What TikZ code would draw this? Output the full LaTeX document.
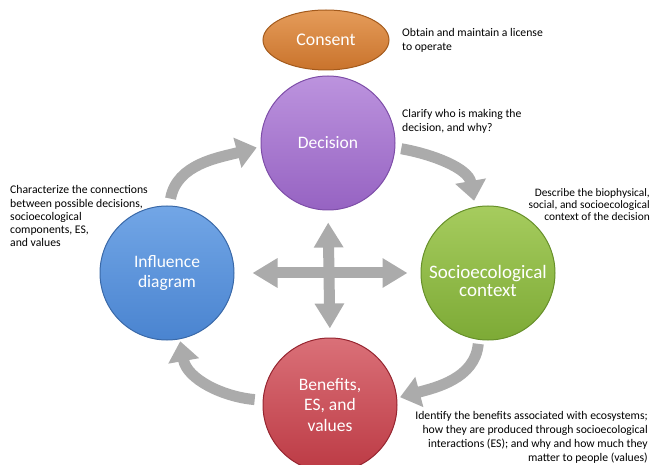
\documentclass[tikz,border=0pt]{standalone}
\usepackage{fontspec}
\setmainfont{Carlito}
\usetikzlibrary{arrows.meta,shapes.geometric}
\definecolor{arrowgray}{HTML}{ABABAB}
\definecolor{consentA}{HTML}{E59C5A}
\definecolor{consentB}{HTML}{C9732C}
\definecolor{consentL}{HTML}{A35A1C}
\definecolor{decA}{HTML}{BC93DE}
\definecolor{decB}{HTML}{9663C2}
\definecolor{decL}{HTML}{7E4EA8}
\definecolor{inflA}{HTML}{72A6E6}
\definecolor{inflB}{HTML}{4A84D0}
\definecolor{inflL}{HTML}{3A69A8}
\definecolor{socA}{HTML}{A6CC5E}
\definecolor{socB}{HTML}{7DAA36}
\definecolor{socL}{HTML}{67902A}
\definecolor{benA}{HTML}{DA7078}
\definecolor{benB}{HTML}{BC3A44}
\definecolor{benL}{HTML}{962530}
\begin{document}
\begin{tikzpicture}[x=1pt,y=1pt,
  hub/.style={circle, minimum size=134pt, inner sep=0pt, line width=1pt, text=white, align=center, font=\fontsize{17.5}{20.5}\selectfont},
  note/.style={inner sep=0pt, font=\fontsize{11.7}{13.5}\selectfont},
  loop/.style={line width=11pt, draw=arrowgray, -{Triangle[width=30pt,length=20pt]}},
  cross/.style={line width=11pt, draw=arrowgray, {Triangle[width=28pt,length=25pt]}-{Triangle[width=28pt,length=25pt]}}]
\useasboundingbox (0,0) rectangle (651,-465);

% the five steps
\node [ellipse, minimum width=126pt, minimum height=60pt, inner sep=0pt, line width=1pt, draw=consentL, top color=consentA, bottom color=consentB, text=white, font=\fontsize{17.8}{20}\selectfont] (consent) at (326,-40) {Consent};
\node [hub, draw=decL, top color=decA, bottom color=decB] (dec) at (328,-143) {Decision};
\node [hub, draw=inflL, top color=inflA, bottom color=inflB] (infl) at (167,-273) {Influence\\diagram};
\node [hub, draw=socL, top color=socA, bottom color=socB,
  label={[text=white, align=center, yshift=-8pt, font=\fontsize{19}{18}\selectfont]center:Socioecological\\context}] (soc) at (488,-273) {};
\node [hub, draw=benL, top color=benA, bottom color=benB] (ben) at (330,-405) {Benefits,\\ES, and\\values};

% cycle
\draw [loop, shorten <=7pt, shorten >=4pt] (infl.88) to [out=80, in=195] (dec.183);
\draw [loop, shorten <=6pt, shorten >=6pt] (dec.-4) to [out=-10, in=100] (soc.101);
\draw [loop, shorten <=4pt, shorten >=3pt] (soc.262) to [out=265, in=15] (ben.6);
\draw [loop, shorten <=8pt, shorten >=2pt] (ben.176) to [out=175, in=-80] (infl.281);

% cross in the middle
\draw [cross, shorten <=18pt, shorten >=13pt] (infl.east) -- (soc.west);
\draw [cross, shorten <=12pt, shorten >=9pt] (dec.south) -- (ben.north);

% notes (base = last line)
\node [note, anchor=base west, align=left] (n1) at (402,-50.5) {Obtain and maintain a license\\to operate};
\node [note, anchor=base west, align=left] (n2) at (402,-131.5) {Clarify who is making the\\decision, and why?};
\node [note, anchor=base west, align=left, font=\fontsize{11.7}{13.3}\selectfont] (n3) at (10,-247) {Characterize the connections\\between possible decisions,\\socioecological\\components, ES,\\and values};
\node [note, anchor=base east, align=right, font=\fontsize{11.4}{11.8}\selectfont] (n4) at (650,-220.6) {Describe the biophysical,\\social, and socioecological\\context of the decision};
\node [note, anchor=base east, align=right, font=\fontsize{11.7}{14}\selectfont] (n5) at (648,-461.5) {Identify the benefits associated with ecosystems;\\how they are produced through socioecological\\interactions (ES); and why and how much they\\matter to people (values)};
\end{tikzpicture}
\end{document}
